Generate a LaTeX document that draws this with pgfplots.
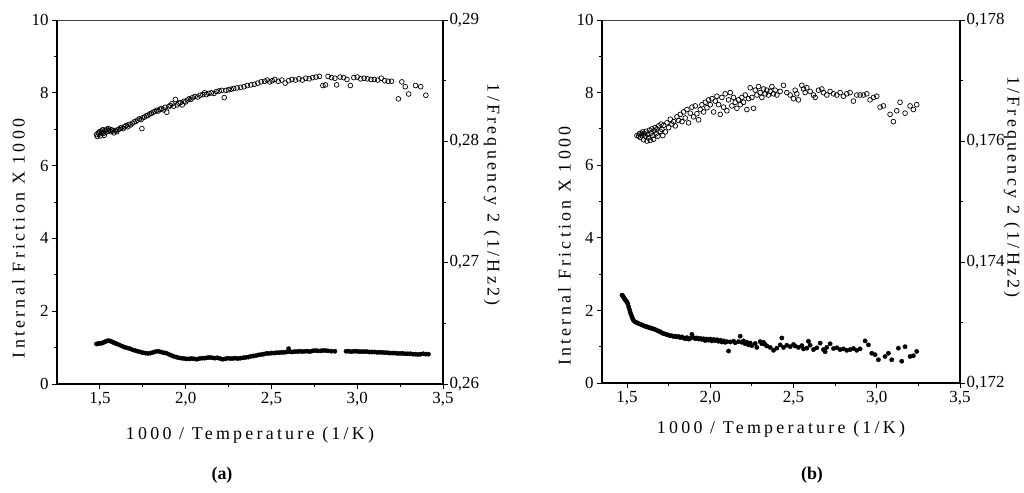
\documentclass[border=0pt]{standalone}
\usepackage{fontspec}
\setmainfont{Liberation Serif}
\newfontfamily\spaced[LetterSpace=18]{Liberation Serif}
\usepackage{pgfplots}
\pgfplotsset{compat=1.18}
\usepackage{pgfplotstable}

% ---------------- panel (a) ----------------
\pgfplotstableread{
x y
1.480 1.10
1.490 1.11
1.500 1.12
1.510 1.12
1.520 1.14
1.530 1.16
1.540 1.18
1.550 1.19
1.560 1.18
1.570 1.16
1.580 1.14
1.590 1.12
1.600 1.10
1.615 1.07
1.630 1.04
1.645 1.01
1.660 0.99
1.675 0.97
1.690 0.94
1.705 0.92
1.720 0.90
1.735 0.88
1.750 0.86
1.765 0.85
1.780 0.84
1.795 0.85
1.810 0.87
1.825 0.89
1.840 0.90
1.855 0.88
1.870 0.86
1.885 0.85
1.900 0.82
1.915 0.79
1.930 0.76
1.945 0.74
1.960 0.72
1.975 0.71
1.990 0.70
2.005 0.69
2.020 0.69
2.035 0.70
2.050 0.69
2.065 0.68
2.080 0.70
2.095 0.71
2.110 0.71
2.125 0.72
2.140 0.73
2.155 0.72
2.170 0.71
2.185 0.72
2.200 0.70
2.215 0.68
2.230 0.69
2.245 0.71
2.260 0.70
2.275 0.70
2.290 0.71
2.305 0.70
2.320 0.71
2.335 0.72
2.350 0.73
2.365 0.74
2.380 0.76
2.395 0.77
2.410 0.78
2.425 0.80
2.440 0.81
2.455 0.82
2.470 0.84
2.485 0.84
2.500 0.85
2.515 0.85
2.530 0.86
2.545 0.86
2.560 0.87
2.575 0.87
2.590 0.88
2.600 0.97
2.605 0.89
2.620 0.88
2.635 0.89
2.650 0.89
2.665 0.90
2.680 0.89
2.695 0.90
2.710 0.90
2.725 0.89
2.740 0.91
2.755 0.92
2.770 0.91
2.785 0.91
2.800 0.92
2.815 0.92
2.830 0.91
2.850 0.90
2.870 0.90
2.935 0.90
2.950 0.90
2.965 0.89
2.980 0.90
2.995 0.90
3.010 0.89
3.025 0.89
3.040 0.89
3.055 0.89
3.070 0.88
3.085 0.88
3.100 0.88
3.115 0.87
3.130 0.87
3.145 0.87
3.160 0.86
3.175 0.86
3.190 0.85
3.205 0.85
3.220 0.85
3.235 0.84
3.250 0.84
3.265 0.84
3.280 0.83
3.295 0.83
3.310 0.83
3.325 0.82
3.340 0.82
3.355 0.81
3.370 0.82
3.385 0.83
3.400 0.82
3.415 0.82
}\frictionA

\pgfplotstableread{
x y
1.480 0.28055
1.485 0.28040
1.490 0.28070
1.495 0.28060
1.500 0.28080
1.503 0.28045
1.508 0.28085
1.512 0.28070
1.516 0.28095
1.520 0.28065
1.525 0.28050
1.530 0.28090
1.535 0.28075
1.540 0.28100
1.545 0.28085
1.550 0.28105
1.556 0.28090
1.562 0.28080
1.568 0.28095
1.575 0.28085
1.582 0.28070
1.590 0.28090
1.598 0.28080
1.605 0.28095
1.612 0.28100
1.620 0.28110
1.628 0.28115
1.636 0.28105
1.645 0.28120
1.653 0.28130
1.662 0.28120
1.670 0.28140
1.680 0.28135
1.690 0.28150
1.700 0.28160
1.710 0.28165
1.720 0.28175
1.730 0.28185
1.740 0.28180
1.745 0.28105
1.750 0.28195
1.760 0.28200
1.770 0.28210
1.780 0.28215
1.790 0.28225
1.800 0.28230
1.810 0.28240
1.820 0.28245
1.830 0.28255
1.840 0.28250
1.850 0.28265
1.860 0.28270
1.870 0.28260
1.880 0.28280
1.890 0.28240
1.900 0.28285
1.910 0.28295
1.920 0.28310
1.930 0.28290
1.940 0.28345
1.950 0.28300
1.960 0.28315
1.970 0.28320
1.980 0.28300
1.990 0.28330
2.000 0.28325
2.010 0.28340
2.020 0.28350
2.030 0.28345
2.040 0.28360
2.055 0.28370
2.070 0.28365
2.085 0.28380
2.100 0.28385
2.110 0.28400
2.120 0.28385
2.135 0.28395
2.150 0.28400
2.165 0.28395
2.180 0.28410
2.195 0.28415
2.210 0.28420
2.225 0.28360
2.235 0.28420
2.250 0.28425
2.265 0.28430
2.280 0.28435
2.300 0.28440
2.320 0.28445
2.340 0.28450
2.360 0.28460
2.380 0.28465
2.400 0.28470
2.420 0.28480
2.440 0.28490
2.460 0.28495
2.475 0.28505
2.490 0.28490
2.505 0.28500
2.520 0.28510
2.540 0.28495
2.560 0.28505
2.580 0.28480
2.600 0.28500
2.620 0.28510
2.640 0.28505
2.660 0.28515
2.680 0.28505
2.700 0.28520
2.720 0.28515
2.740 0.28525
2.760 0.28530
2.780 0.28535
2.800 0.28460
2.815 0.28465
2.830 0.28535
2.850 0.28525
2.870 0.28520
2.880 0.28465
2.900 0.28530
2.920 0.28525
2.940 0.28510
2.960 0.28460
2.980 0.28525
3.000 0.28530
3.020 0.28515
3.040 0.28520
3.060 0.28515
3.080 0.28510
3.100 0.28510
3.120 0.28505
3.140 0.28520
3.160 0.28500
3.180 0.28495
3.200 0.28495
3.240 0.28350
3.260 0.28490
3.280 0.28450
3.300 0.28390
3.340 0.28460
3.370 0.28450
3.400 0.28380
}\freqA

% ---------------- panel (b) ----------------
\pgfplotstableread{
x y
1.470 2.42
1.475 2.40
1.480 2.36
1.485 2.32
1.490 2.29
1.495 2.26
1.500 2.23
1.505 2.18
1.510 2.10
1.515 2.02
1.520 1.94
1.525 1.88
1.530 1.82
1.535 1.76
1.540 1.72
1.550 1.68
1.560 1.66
1.570 1.64
1.580 1.62
1.590 1.60
1.600 1.58
1.610 1.56
1.620 1.55
1.630 1.53
1.640 1.52
1.650 1.50
1.660 1.49
1.670 1.47
1.680 1.45
1.690 1.43
1.700 1.41
1.710 1.38
1.720 1.36
1.730 1.35
1.740 1.33
1.750 1.32
1.760 1.30
1.770 1.30
1.780 1.28
1.790 1.29
1.800 1.27
1.810 1.28
1.820 1.25
1.830 1.27
1.840 1.24
1.850 1.22
1.860 1.25
1.870 1.21
1.880 1.23
1.890 1.34
1.900 1.25
1.910 1.22
1.920 1.24
1.930 1.21
1.940 1.23
1.950 1.20
1.960 1.22
1.970 1.17
1.980 1.21
1.990 1.18
2.000 1.21
2.010 1.16
2.020 1.20
2.030 1.17
2.040 1.19
2.050 1.15
2.060 1.18
2.070 1.13
2.080 1.16
2.090 1.12
2.100 1.14
2.110 0.88
2.120 1.13
2.140 1.15
2.150 1.11
2.170 1.14
2.180 1.29
2.190 1.12
2.200 1.16
2.210 1.08
2.220 1.12
2.230 1.05
2.240 1.10
2.250 1.03
2.270 1.09
2.280 0.98
2.300 1.14
2.310 1.08
2.320 1.12
2.330 1.06
2.340 1.02
2.360 0.98
2.380 0.90
2.400 0.96
2.420 1.05
2.430 1.24
2.440 0.98
2.460 1.04
2.480 1.00
2.500 1.06
2.510 1.02
2.530 0.98
2.550 1.03
2.560 0.94
2.580 0.96
2.590 1.15
2.600 1.04
2.620 0.92
2.640 0.97
2.660 1.10
2.680 0.92
2.690 0.86
2.700 0.98
2.720 1.08
2.740 0.95
2.760 0.97
2.780 0.92
2.800 0.94
2.820 0.90
2.840 0.92
2.860 0.95
2.880 0.90
2.900 0.94
2.930 1.16
2.950 1.05
2.970 0.82
2.990 0.78
3.010 0.64
3.050 0.73
3.070 0.82
3.090 0.64
3.130 0.96
3.150 0.60
3.170 1.00
3.200 0.73
3.220 0.75
3.240 0.87
}\frictionB

\pgfplotstableread{
x y
1.560 0.17609
1.570 0.17608
1.575 0.17612
1.580 0.17606
1.585 0.17613
1.590 0.17610
1.595 0.17615
1.600 0.17602
1.605 0.17612
1.610 0.17608
1.615 0.17616
1.620 0.17600
1.625 0.17611
1.630 0.17605
1.635 0.17618
1.640 0.17601
1.645 0.17613
1.650 0.17620
1.655 0.17609
1.660 0.17603
1.665 0.17617
1.670 0.17622
1.675 0.17612
1.680 0.17620
1.685 0.17608
1.690 0.17625
1.700 0.17616
1.705 0.17628
1.710 0.17619
1.715 0.17609
1.720 0.17626
1.730 0.17615
1.740 0.17630
1.750 0.17622
1.760 0.17636
1.770 0.17628
1.780 0.17632
1.790 0.17625
1.800 0.17640
1.810 0.17634
1.820 0.17644
1.830 0.17632
1.840 0.17648
1.850 0.17638
1.860 0.17652
1.870 0.17630
1.880 0.17646
1.890 0.17656
1.900 0.17640
1.910 0.17658
1.920 0.17645
1.930 0.17635
1.940 0.17652
1.950 0.17660
1.960 0.17648
1.970 0.17664
1.980 0.17655
1.990 0.17668
2.000 0.17660
2.010 0.17670
2.020 0.17648
2.030 0.17666
2.040 0.17674
2.050 0.17660
2.060 0.17644
2.070 0.17672
2.080 0.17656
2.090 0.17678
2.100 0.17650
2.110 0.17668
2.120 0.17680
2.130 0.17658
2.140 0.17672
2.150 0.17664
2.160 0.17654
2.170 0.17668
2.180 0.17660
2.190 0.17672
2.200 0.17664
2.210 0.17676
2.220 0.17652
2.230 0.17670
2.240 0.17688
2.250 0.17672
2.260 0.17654
2.270 0.17684
2.280 0.17676
2.290 0.17690
2.300 0.17680
2.310 0.17672
2.320 0.17686
2.330 0.17678
2.340 0.17684
2.350 0.17676
2.360 0.17682
2.370 0.17690
2.380 0.17678
2.390 0.17684
2.400 0.17676
2.420 0.17682
2.440 0.17692
2.460 0.17680
2.480 0.17676
2.500 0.17670
2.510 0.17684
2.520 0.17678
2.530 0.17668
2.550 0.17692
2.560 0.17686
2.570 0.17680
2.580 0.17688
2.600 0.17682
2.620 0.17676
2.630 0.17672
2.650 0.17684
2.670 0.17686
2.680 0.17680
2.700 0.17676
2.720 0.17682
2.740 0.17678
2.760 0.17676
2.780 0.17680
2.800 0.17674
2.820 0.17678
2.840 0.17680
2.860 0.17666
2.880 0.17676
2.900 0.17676
2.920 0.17676
2.940 0.17678
2.960 0.17668
2.980 0.17672
3.000 0.17674
3.020 0.17656
3.040 0.17658
3.080 0.17644
3.100 0.17632
3.120 0.17650
3.140 0.17664
3.170 0.17646
3.200 0.17658
3.220 0.17652
3.240 0.17660
}\freqB

\pgfplotsset{
  every axis/.append style={
    scale only axis,
    /pgf/number format/assume math mode=true,
    tick label style={font=\fontsize{17}{19}\selectfont, black},
    label style={font=\spaced\fontsize{18}{20}\selectfont},
    tick align=outside,
    major tick length=5bp, minor tick length=3bp,
    every tick/.style={black, line width=0.9bp},
    axis line style={line width=1.1bp, black},
  },
  leftax/.style={
    axis x line*=bottom, axis y line*=left,
    ymin=0, ymax=10, ytick={0,2,...,10}, minor y tick num=1,
    xtick={1.5,2.0,2.5,3.0,3.5}, minor x tick num=1,
    xticklabel style={/pgf/number format/.cd, fixed, fixed zerofill, precision=1, use comma},
    xlabel={1000 / Temperature (1/K)},
    ylabel={Internal Friction X 1000},
  },
  rightax/.style={
    axis x line=none, axis y line*=right,
    ylabel={1/Frequency 2 (1/Hz2)},
    yticklabel style={xshift=-2bp},
  },
  fillmarks/.style={only marks, mark=*, mark size=2.2bp, mark options={fill=black, draw=black, line width=0.3bp}},
  openmarks/.style={only marks, mark=o, mark size=2.4bp, mark options={draw=black, line width=0.7bp}},
}

\begin{document}
\begin{tikzpicture}
\path[use as bounding box] (0bp,0bp) rectangle (1024bp,493bp);

% ===== panel (a) =====
\begin{axis}[leftax, at={(57bp,109bp)}, anchor=south west, width=386bp, height=364bp,
  xmin=1.25, xmax=3.5,
  xlabel style={at={(axis description cs:0.5,-0.14)}, anchor=center},
  ylabel style={at={(axis description cs:-0.1,0.40)}, anchor=center}]
  \addplot[fillmarks] table {\frictionA};
  \draw[line width=0.8bp, black!75] (rel axis cs:0,1) -- (rel axis cs:1,1);
\end{axis}
\begin{axis}[rightax, at={(57bp,109bp)}, anchor=south west, width=386bp, height=364bp,
  xmin=1.25, xmax=3.5, ymin=0.26, ymax=0.29,
  ytick={0.26,0.27,0.28,0.29}, minor y tick num=1,
  yticklabel style={/pgf/number format/.cd, fixed, fixed zerofill, precision=2, use comma},
  ylabel style={at={(axis description cs:1.127,0.52)}, anchor=center, rotate=180}]
  \addplot[openmarks] table {\freqA};
\end{axis}
\node[font=\bfseries\fontsize{18}{20}\selectfont] at (222bp,18bp) {(a)};

% ===== panel (b) =====
\begin{axis}[leftax, at={(602bp,110bp)}, anchor=south west, width=358bp, height=363bp,
  xmin=1.35, xmax=3.5,
  xlabel style={at={(axis description cs:0.5,-0.127)}, anchor=center},
  ylabel style={at={(axis description cs:-0.105,0.377)}, anchor=center}]
  \addplot[fillmarks] table {\frictionB};
  \draw[line width=0.8bp, black!75] (rel axis cs:0,1) -- (rel axis cs:1,1);
\end{axis}
\begin{axis}[rightax, at={(602bp,110bp)}, anchor=south west, width=358bp, height=363bp,
  xmin=1.35, xmax=3.5, ymin=0.172, ymax=0.178,
  ytick={0.172,0.174,0.176,0.178}, minor y tick num=1,
  yticklabel style={/pgf/number format/.cd, fixed, fixed zerofill, precision=3, use comma},
  ylabel style={at={(axis description cs:1.145,0.54)}, anchor=center, rotate=180}]
  \addplot[openmarks] table {\freqB};
\end{axis}
\node[font=\bfseries\fontsize{18}{20}\selectfont] at (812bp,18bp) {(b)};
\end{tikzpicture}
\end{document}
